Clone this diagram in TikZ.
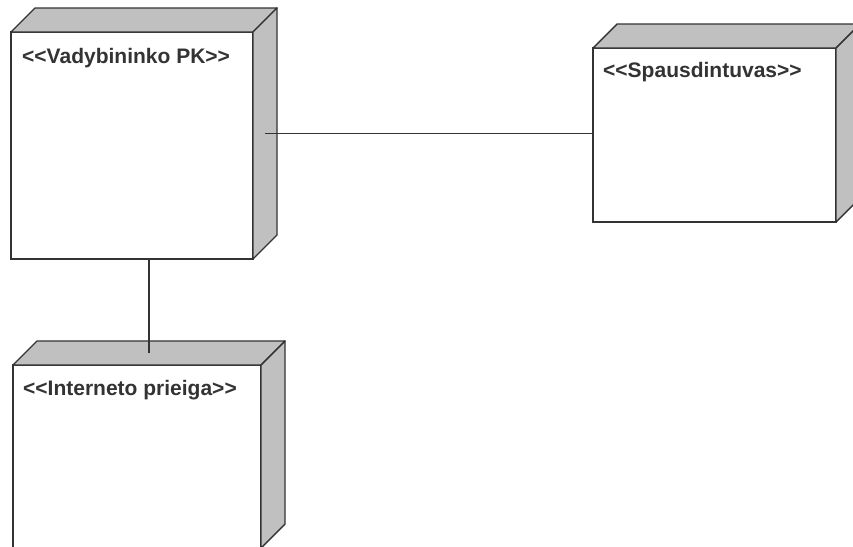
\documentclass[tikz,border=0pt]{standalone}
\usepackage{fontspec}
\setmainfont{Liberation Sans}
\usetikzlibrary{calc}

\definecolor{edge}{HTML}{333333}
\definecolor{shade}{HTML}{C0C0C0}

\tikzset{
  face/.style={draw=edge, line width=1.4pt, line join=round, fill=shade},
  front/.style={draw=edge, line width=1.4pt, fill=white, inner sep=0pt,
    outer sep=0pt, anchor=north west},
  stereo/.style={anchor=base west, inner sep=0pt,
    font=\bfseries\fontsize{21}{25}\selectfont, text=edge},
  link/.style={draw=edge, line width=1.3pt},
}

% top and right faces of a deployment node, plus handy coordinates
\newcommand\boxfaces[1]{%
  \draw[face] (#1.north west) -- ++(24,-24)
    -- ($(#1.north east)+(24,-24)$) -- (#1.north east) -- cycle;
  \draw[face] (#1.north east) -- ++(24,-24)
    -- ($(#1.south east)+(24,-24)$) -- (#1.south east) -- cycle;
  \coordinate (#1-top) at ($(#1.north)+(12,-12)$);
  \coordinate (#1-side) at ($(#1.east)+(12,-12)$);
}

\begin{document}
\begin{tikzpicture}[x=1pt, y=-1pt]
  \useasboundingbox (0,0) rectangle (853,546);
  \clip (0,0) rectangle (853,546);

  % manager's PC
  \node[front, minimum width=242pt, minimum height=227pt] (pk) at (11,32) {};
  \boxfaces{pk}
  \node[stereo] (pk-label) at ($(pk.north west)+(11,31)$) {<{}<Vadybininko PK>{}>};

  % printer
  \node[front, minimum width=243pt, minimum height=174pt] (sp) at (593,48) {};
  \boxfaces{sp}
  \node[stereo] (sp-label) at ($(sp.north west)+(10,29)$) {<{}<Spausdintuvas>{}>};

  % internet access
  \node[front, minimum width=248pt, minimum height=183pt] (net) at (13,365) {};
  \boxfaces{net}
  \node[stereo] (net-label) at ($(net.north west)+(10,30)$) {<{}<Interneto prieiga>{}>};

  % communication paths
  \draw[link] (pk-side) -- (pk-side -| sp.west);
  \draw[link] (net-top) -- (net-top |- pk.south);
\end{tikzpicture}
\end{document}
